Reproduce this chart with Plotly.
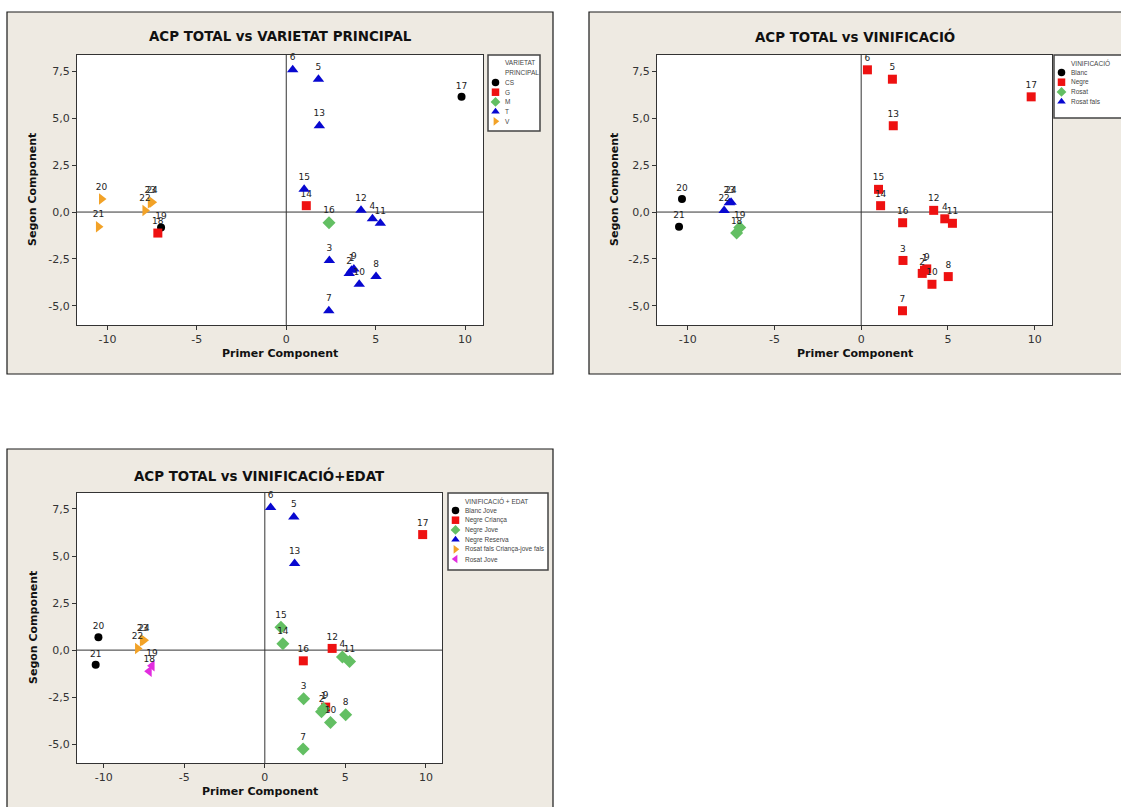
import plotly.graph_objects as go

# ---- data: PCA scores of the 24 wines -------------------------------------
sample_ids = list(range(1, 25))
pc1 = [3.65, 3.52, 2.41, 4.82, 1.80, 0.36, 2.38, 5.02, 3.78, 4.08, 5.26, 4.18,
       1.85, 1.12, 1.00, 2.39, 9.80, -7.18, -7.00, -10.33, -10.50, -7.90, -7.60, -7.50]
pc2 = [-3.10, -3.27, -2.58, -0.36, 7.08, 7.58, -5.26, -3.44, -3.03, -3.85, -0.60, 0.09,
       4.60, 0.34, 1.21, -0.57, 6.14, -1.12, -0.83, 0.69, -0.78, 0.08, 0.50, 0.52]

varietat = ["T", "T", "T", "T", "T", "T", "T", "T", "T", "T", "T", "T",
            "T", "G", "T", "M", "CS", "G", "CS", "V", "V", "V", "V", "V"]
varietat_levels = ["CS", "G", "M", "T", "V"]

vinificacio = ["Negre"] * 17 + ["Rosat", "Rosat", "Blanc", "Blanc",
                                "Rosat fals", "Rosat fals", "Rosat fals"]
vinificacio_levels = ["Blanc", "Negre", "Rosat", "Rosat fals"]

vin_edat = ["Negre Jove", "Negre Jove", "Negre Jove", "Negre Jove", "Negre Reserva",
            "Negre Reserva", "Negre Jove", "Negre Jove", "Negre Criança", "Negre Jove",
            "Negre Jove", "Negre Criança", "Negre Reserva", "Negre Jove", "Negre Jove",
            "Negre Criança", "Negre Criança", "Rosat Jove", "Rosat Jove", "Blanc Jove",
            "Blanc Jove", "Rosat fals Criança-jove fals", "Rosat fals Criança-jove fals",
            "Rosat fals Criança-jove fals"]
vin_edat_levels = ["Blanc Jove", "Negre Criança", "Negre Jove", "Negre Reserva",
                   "Rosat fals Criança-jove fals", "Rosat Jove"]

x_tickvals = [-10, -5, 0, 5, 10]
x_ticktext = ["-10", "-5", "0", "5", "10"]
y_tickvals = [-5, -2.5, 0, 2.5, 5, 7.5]
y_ticktext = ["-5,0", "-2,5", "0,0", "2,5", "5,0", "7,5"]

# ---- styling ---------------------------------------------------------------
W, H = 1121, 807
SYMBOLS = ["circle", "square", "diamond", "triangle-up", "triangle-right", "triangle-left"]
COLORS = ["#000000", "#EE1111", "#63BF63", "#0808D0", "#F2A227", "#E22DDF"]
SIZES = [8, 9, 10, 10, 10, 10]
PANEL_BG = "#EEEAE2"
FONT = "DejaVu Sans"

panels = [
    dict(title="ACP TOTAL vs VARIETAT PRINCIPAL", groups=varietat, levels=varietat_levels,
         legend_title=["VARIETAT", "PRINCIPAL"],
         box=(7, 12, 553, 374), plot=(77, 55, 483, 325), legend=(488, 55, 540, 131),
         xr=(-11.7, 11.0), yr=(-6.02, 8.37), title_y=37, xtitle_y=353, ytitle_x=32),
    dict(title="ACP TOTAL vs VINIFICACIÓ", groups=vinificacio, levels=vinificacio_levels,
         legend_title=["VINIFICACIÓ"],
         box=(589, 12, 1135, 374), plot=(657, 55, 1052, 325), legend=(1054, 55, 1135, 118),
         xr=(-11.77, 11.0), yr=(-6.02, 8.37), title_y=37, xtitle_y=353, ytitle_x=614),
    dict(title="ACP TOTAL vs VINIFICACIÓ+EDAT", groups=vin_edat, levels=vin_edat_levels,
         legend_title=["VINIFICACIÓ + EDAT"],
         box=(7, 449, 553, 830), plot=(77, 493, 442, 763), legend=(448, 493, 548, 570),
         xr=(-11.66, 11.0), yr=(-6.0, 8.35), title_y=475, xtitle_y=791, ytitle_x=33),
]


def fx(px):
    return px / W


def fy(py):
    return 1 - py / H


fig = go.Figure()
shapes = []
annotations = []
layout_axes = {}

for i, p in enumerate(panels):
    n = i + 1
    ax_x = "x" if n == 1 else f"x{n}"
    ax_y = "y" if n == 1 else f"y{n}"
    lg_n = n + 3
    lg_x, lg_y = f"x{lg_n}", f"y{lg_n}"

    bx0, by0, bx1, by1 = p["box"]
    px0, py0, px1, py1 = p["plot"]
    lx0, ly0, lx1, ly1 = p["legend"]

    # panel background, plot area and legend box
    shapes.append(dict(type="rect", xref="paper", yref="paper", layer="below",
                       x0=fx(bx0), x1=fx(bx1), y0=fy(by1), y1=fy(by0),
                       fillcolor=PANEL_BG, line=dict(color="#1a1a1a", width=1.2)))
    shapes.append(dict(type="rect", xref="paper", yref="paper", layer="below",
                       x0=fx(px0), x1=fx(px1), y0=fy(py1), y1=fy(py0),
                       fillcolor="white", line=dict(width=0)))
    shapes.append(dict(type="rect", xref="paper", yref="paper", layer="below",
                       x0=fx(lx0), x1=fx(lx1), y0=fy(ly1), y1=fy(ly0),
                       fillcolor="white", line=dict(color="#444444", width=1.5)))

    # reference lines through the origin
    shapes.append(dict(type="line", xref=ax_x, yref=f"{ax_y} domain", layer="below",
                       x0=0, x1=0, y0=0, y1=1, line=dict(color="#333333", width=1)))
    shapes.append(dict(type="line", xref=f"{ax_x} domain", yref=ax_y, layer="below",
                       x0=0, x1=1, y0=0, y1=0, line=dict(color="#333333", width=1)))

    # scores, one trace per group
    for k, lev in enumerate(p["levels"]):
        idx = [j for j, g in enumerate(p["groups"]) if g == lev]
        fig.add_trace(go.Scatter(
            x=[pc1[j] for j in idx], y=[pc2[j] for j in idx],
            text=[str(sample_ids[j]) for j in idx],
            mode="markers+text", textposition="top center",
            textfont=dict(family=FONT, size=9, color="#222222"),
            marker=dict(symbol=SYMBOLS[k], color=COLORS[k], size=SIZES[k], line=dict(width=0)),
            xaxis=ax_x, yaxis=ax_y, showlegend=False, hoverinfo="skip", cliponaxis=False))

    # legend drawn on its own pixel-scaled axis (clipped to the page width)
    lx1_vis = min(lx1, W)
    lw, lh = lx1_vis - lx0, ly1 - ly0
    title_lines = p["legend_title"]
    for t, line in enumerate(title_lines):
        annotations.append(dict(xref=lg_x, yref=lg_y, x=15, y=7.5 + 9.5 * t, text=line,
                                showarrow=False, xanchor="left", yanchor="middle",
                                font=dict(family="Liberation Sans", size=6.5, color="#444444")))
    first_row = 7 + 10 * len(title_lines) + 0.5
    for k, lev in enumerate(p["levels"]):
        row = first_row + 9.7 * k
        fig.add_trace(go.Scatter(
            x=[7.5], y=[row], mode="markers",
            marker=dict(symbol=SYMBOLS[k], color=COLORS[k], size=7.5, line=dict(width=0)),
            xaxis=lg_x, yaxis=lg_y, showlegend=False, hoverinfo="skip", cliponaxis=False))
        annotations.append(dict(xref=lg_x, yref=lg_y, x=15, y=row, text=lev,
                                showarrow=False, xanchor="left", yanchor="middle",
                                font=dict(family="Liberation Sans", size=6.5, color="#444444")))

    # titles
    annotations.append(dict(xref="paper", yref="paper", x=fx((px0 + px1) / 2), y=fy(p["title_y"]),
                            text=p["title"], showarrow=False, xanchor="center", yanchor="middle",
                            font=dict(family=FONT, size=13.4, color="#111111", weight="bold")))
    annotations.append(dict(xref="paper", yref="paper", x=fx((px0 + px1) / 2), y=fy(p["xtitle_y"]),
                            text="Primer Component", showarrow=False, xanchor="center",
                            yanchor="middle",
                            font=dict(family=FONT, size=11, color="#111111", weight="bold")))
    annotations.append(dict(xref="paper", yref="paper", x=fx(p["ytitle_x"]), y=fy((py0 + py1) / 2),
                            text="Segon Component", showarrow=False, textangle=-90,
                            xanchor="center", yanchor="middle",
                            font=dict(family=FONT, size=11, color="#111111", weight="bold")))

    axis_common = dict(showgrid=False, zeroline=False, showline=True, mirror=True,
                       linecolor="#333333", linewidth=1, ticks="outside", ticklen=4,
                       tickcolor="#333333", tickfont=dict(family=FONT, size=11, color="#333333"))
    xname = "xaxis" if n == 1 else f"xaxis{n}"
    yname = "yaxis" if n == 1 else f"yaxis{n}"
    layout_axes[xname] = dict(domain=[fx(px0), fx(px1)], range=list(p["xr"]),
                              tickvals=x_tickvals, ticktext=x_ticktext, anchor=ax_y,
                              **axis_common)
    layout_axes[yname] = dict(domain=[fy(py1), fy(py0)], range=list(p["yr"]),
                              tickvals=y_tickvals, ticktext=y_ticktext, anchor=ax_x,
                              **axis_common)
    layout_axes[f"xaxis{lg_n}"] = dict(domain=[fx(lx0), fx(lx1_vis)], range=[0, lw],
                                       visible=False, anchor=lg_y, fixedrange=True)
    layout_axes[f"yaxis{lg_n}"] = dict(domain=[fy(ly1), fy(ly0)], range=[lh, 0],
                                       visible=False, anchor=lg_x, fixedrange=True)

fig.update_layout(
    width=W, height=H, margin=dict(l=0, r=0, t=0, b=0),
    paper_bgcolor="white", plot_bgcolor="rgba(0,0,0,0)",
    shapes=shapes, annotations=annotations, showlegend=False,
    **layout_axes,
)

fig.write_html("out.html")
